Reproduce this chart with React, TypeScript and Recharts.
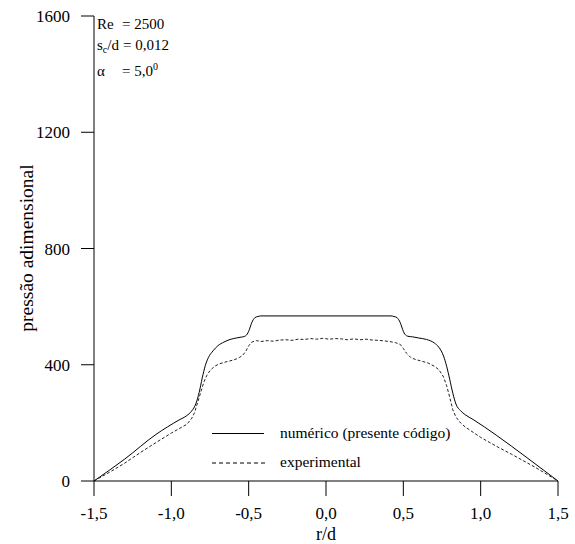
import { LineChart, Line, XAxis, YAxis } from 'recharts';

// r/d positions and values
const numR = [-1.5, -1.3, -1.1, -0.95, -0.9, -0.87, -0.84, -0.82, -0.8, -0.78, -0.76, -0.73, -0.7, -0.66, -0.62, -0.58, -0.55, -0.53, -0.51, -0.5, -0.49, -0.48, -0.47, -0.46, -0.44, -0.42, 0.42, 0.44, 0.46, 0.47, 0.48, 0.49, 0.5, 0.51, 0.53, 0.56, 0.6, 0.65, 0.7, 0.73, 0.76, 0.78, 0.8, 0.82, 0.84, 0.87, 0.9, 0.95, 1.1, 1.3, 1.5];
const numP = [0, 76, 160, 210, 225, 240, 268, 305, 355, 398, 425, 448, 465, 478, 487, 492, 495, 497, 505, 515, 530, 545, 555, 562, 566, 568, 568, 566, 562, 555, 545, 530, 515, 505, 498, 496, 492, 487, 475, 460, 430, 395, 350, 302, 265, 242, 228, 212, 158, 80, 0];

const expR = [-1.5, -1.4, -1.3, -1.2, -1.1, -1.0, -0.95, -0.9, -0.87, -0.85, -0.83, -0.81, -0.79, -0.77, -0.75, -0.72, -0.69, -0.66, -0.63, -0.6, -0.58, -0.56, -0.54, -0.52, -0.5, -0.48, -0.45, -0.42, -0.38, -0.34, -0.3, -0.26, -0.22, -0.18, -0.14, -0.1, -0.06, -0.02, 0.02, 0.06, 0.1, 0.14, 0.18, 0.22, 0.26, 0.3, 0.34, 0.38, 0.42, 0.45, 0.48, 0.5, 0.52, 0.55, 0.58, 0.62, 0.66, 0.7, 0.73, 0.76, 0.78, 0.8, 0.82, 0.84, 0.87, 0.9, 1.0, 1.1, 1.2, 1.35, 1.5];
const expP = [0, 30, 62, 98, 132, 165, 180, 195, 214, 235, 270, 305, 340, 364, 380, 395, 403, 408, 412, 416, 420, 425, 432, 445, 465, 478, 483, 480, 483, 481, 485, 486, 484, 488, 487, 490, 488, 491, 488, 490, 489, 486, 489, 486, 488, 485, 484, 482, 479, 476, 470, 456, 440, 424, 418, 412, 406, 395, 383, 358, 328, 288, 245, 220, 200, 186, 150, 120, 92, 48, 0];

const xTicks = [-1.5, -1.0, -0.5, 0, 0.5, 1.0, 1.5];
const xTickLabels = ['-1,5', '-1,0', '-0,5', '0,0', '0,5', '1,0', '1,5'];
const yTicks = [0, 400, 800, 1200, 1600];

const numericData = numR.map((r, i) => ({ r, p: numP[i] }));
const expData = expR.map((r, i) => ({ r, p: expP[i] }));

const font = '"Liberation Serif", "Times New Roman", serif';

export default function App() {
    return (
        <div style={{ position: 'absolute', left: 0, top: 0, width: 575, height: 544, background: '#fff', fontFamily: font, color: '#000' }}>
            <LineChart width={575} height={544} data={numericData} margin={{ top: 16, right: 17, bottom: 23, left: 0 }}>
                <XAxis
                    dataKey="r"
                    type="number"
                    domain={[-1.5, 1.5]}
                    ticks={xTicks}
                    tickFormatter={(v) => xTickLabels[xTicks.indexOf(v)] ?? String(v)}
                    height={40}
                    tickSize={15}
                    tickMargin={11}
                    axisLine={{ stroke: '#000' }}
                    tickLine={{ stroke: '#000' }}
                    tick={{ fill: '#000', fontSize: 17, fontFamily: font }}
                    allowDataOverflow
                />
                <XAxis xAxisId="top" orientation="top" type="number" domain={[-1.5, 1.5]} height={0} tick={false} tickLine={false} axisLine={{ stroke: '#000' }} />
                <YAxis
                    type="number"
                    domain={[0, 1600]}
                    ticks={yTicks}
                    width={94}
                    tickSize={13}
                    tickMargin={11}
                    axisLine={{ stroke: '#000' }}
                    tickLine={{ stroke: '#000' }}
                    tick={{ fill: '#000', fontSize: 17, fontFamily: font }}
                />
                <YAxis yAxisId="right" orientation="right" type="number" domain={[0, 1600]} width={0} tick={false} tickLine={false} axisLine={{ stroke: '#000' }} />
                <Line data={numericData} dataKey="p" type="monotone" stroke="#000" strokeWidth={1} dot={false} isAnimationActive={false} />
                <Line data={expData} dataKey="p" type="linear" stroke="#222" strokeWidth={1} strokeDasharray="3 2" dot={false} isAnimationActive={false} />
            </LineChart>

            {/* annotation */}
            <div style={{ position: 'absolute', left: 97, top: 16, fontSize: 15, lineHeight: '16px', whiteSpace: 'nowrap' }}>
                <span>Re</span>
                <span style={{ position: 'absolute', left: 25, top: 0 }}>= 2500</span>
            </div>
            <div style={{ position: 'absolute', left: 97, top: 37, fontSize: 15, lineHeight: '16px', whiteSpace: 'nowrap' }}>
                <span>s<span style={{ fontSize: 10, position: 'relative', top: 3 }}>c</span>/d</span>
                <span style={{ position: 'absolute', left: 26, top: 0 }}>= 0,012</span>
            </div>
            <div style={{ position: 'absolute', left: 97, top: 63, fontSize: 15, lineHeight: '16px', whiteSpace: 'nowrap' }}>
                <span>α</span>
                <span style={{ position: 'absolute', left: 25, top: 0 }}>= 5,0<span style={{ fontSize: 10, position: 'relative', top: -6 }}>0</span></span>
            </div>

            {/* axis titles */}
            <div style={{ position: 'absolute', left: 27, top: 248, fontSize: 19.5, whiteSpace: 'nowrap', transform: 'translate(-50%, -50%) rotate(-90deg)' }}>
                pressão adimensional
            </div>
            <div style={{ position: 'absolute', left: 326, top: 534, fontSize: 18, lineHeight: '17px', whiteSpace: 'nowrap', transform: 'translate(-50%, -50%)' }}>
                r/d
            </div>

            {/* legend */}
            <div style={{ position: 'absolute', left: 212, top: 433, width: 52, borderTop: '1px solid #000' }} />
            <svg style={{ position: 'absolute', left: 212, top: 460 }} width={54} height={6}>
                <line x1={0} y1={3} x2={54} y2={3} stroke="#000" strokeDasharray="4 3" />
            </svg>
            <div style={{ position: 'absolute', left: 280, top: 434, fontSize: 15.5, whiteSpace: 'nowrap', transform: 'translateY(-55%)' }}>
                numérico (presente código)
            </div>
            <div style={{ position: 'absolute', left: 280, top: 463, fontSize: 15.5, whiteSpace: 'nowrap', transform: 'translateY(-55%)' }}>
                experimental
            </div>
        </div>
    );
}
